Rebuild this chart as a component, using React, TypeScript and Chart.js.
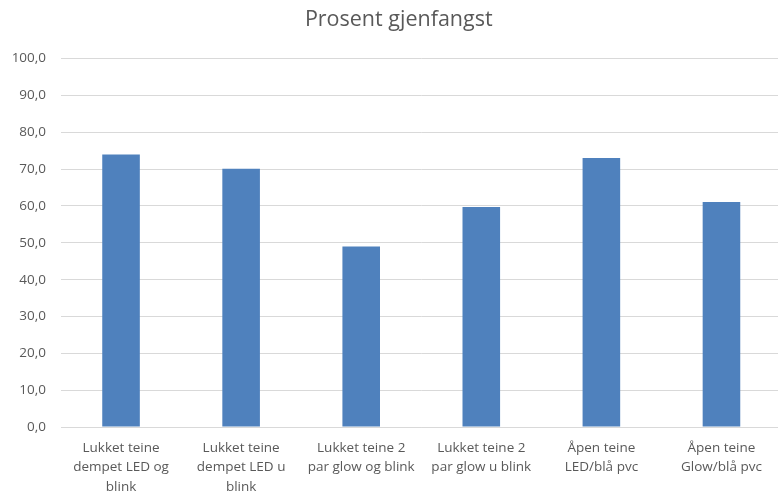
import React, { useEffect, useRef } from "react";
import { Chart, registerables } from "chart.js";

Chart.register(...registerables);

const categories: string[][] = [
  ["Lukket teine", "dempet LED og", "blink"],
  ["Lukket teine", "dempet LED u", "blink"],
  ["Lukket teine 2", "par glow og blink"],
  ["Lukket teine 2", "par glow u blink"],
  ["Åpen teine", "LED/blå pvc"],
  ["Åpen teine", "Glow/blå pvc"],
];
const values: number[] = [74.0, 70.1, 49.0, 59.7, 73.0, 61.1];
const chartTitle = "Prosent gjenfangst";

const FONT = "'Open Sans', Lato, sans-serif";

const shiftTitle = {
  id: "shiftTitle",
  afterLayout(chart: any) {
    const t = chart.titleBlock;
    if (t) t.left = t.left + 16;
  },
};

export default function App() {
  const ref = useRef<HTMLCanvasElement | null>(null);
  useEffect(() => {
    if (!ref.current) return;
    const chart = new Chart(ref.current, {
      type: "bar",
      data: {
        labels: categories,
        datasets: [
          {
            data: values,
            backgroundColor: "#4f81bd",
            borderWidth: 0,
            categoryPercentage: 1,
            barPercentage: 0.313,
          },
        ],
      },
      plugins: [shiftTitle],
      options: {
        animation: false,
        responsive: false,
        maintainAspectRatio: false,
        layout: { padding: { top: 0, left: 0, right: 18.5, bottom: 0 } },
        plugins: {
          legend: { display: false },
          tooltip: { enabled: false },
          title: {
            display: true,
            text: chartTitle,
            color: "#595959",
            font: { family: FONT, size: 21.5, weight: "normal", lineHeight: 1.1 },
            padding: { top: 8, bottom: 27 },
          },
        },
        scales: {
          x: {
            grid: { display: false, drawTicks: false },
            border: { display: true, color: "#d9d9d9", width: 1 },
            ticks: {
              color: "#595959",
              font: { family: FONT, size: 13.5, lineHeight: 1.444 },
              padding: 11,
              maxRotation: 0,
              autoSkip: false,
            },
            afterFit: (s: any) => {
              s.height = 67;
            },
          },
          y: {
            min: 0,
            max: 100,
            grid: { color: "#d9d9d9", lineWidth: 1, drawTicks: false },
            border: { display: false },
            ticks: {
              stepSize: 10,
              color: "#595959",
              font: { family: FONT, size: 13.5 },
              padding: 15,
              callback: (v: any) => Number(v).toFixed(1).replace(".", ","),
            },
            afterFit: (s: any) => {
              s.width = 61;
            },
          },
        },
      } as any,
    });
    return () => chart.destroy();
  }, []);
  return (
    <div
      style={{
        position: "fixed",
        left: 0,
        top: 0,
        width: 778,
        height: 494,
        overflow: "hidden",
        background: "#fff",
      }}
    >
      <canvas ref={ref} width={800} height={494} style={{ width: 800, height: 494 }} />
    </div>
  );
}
